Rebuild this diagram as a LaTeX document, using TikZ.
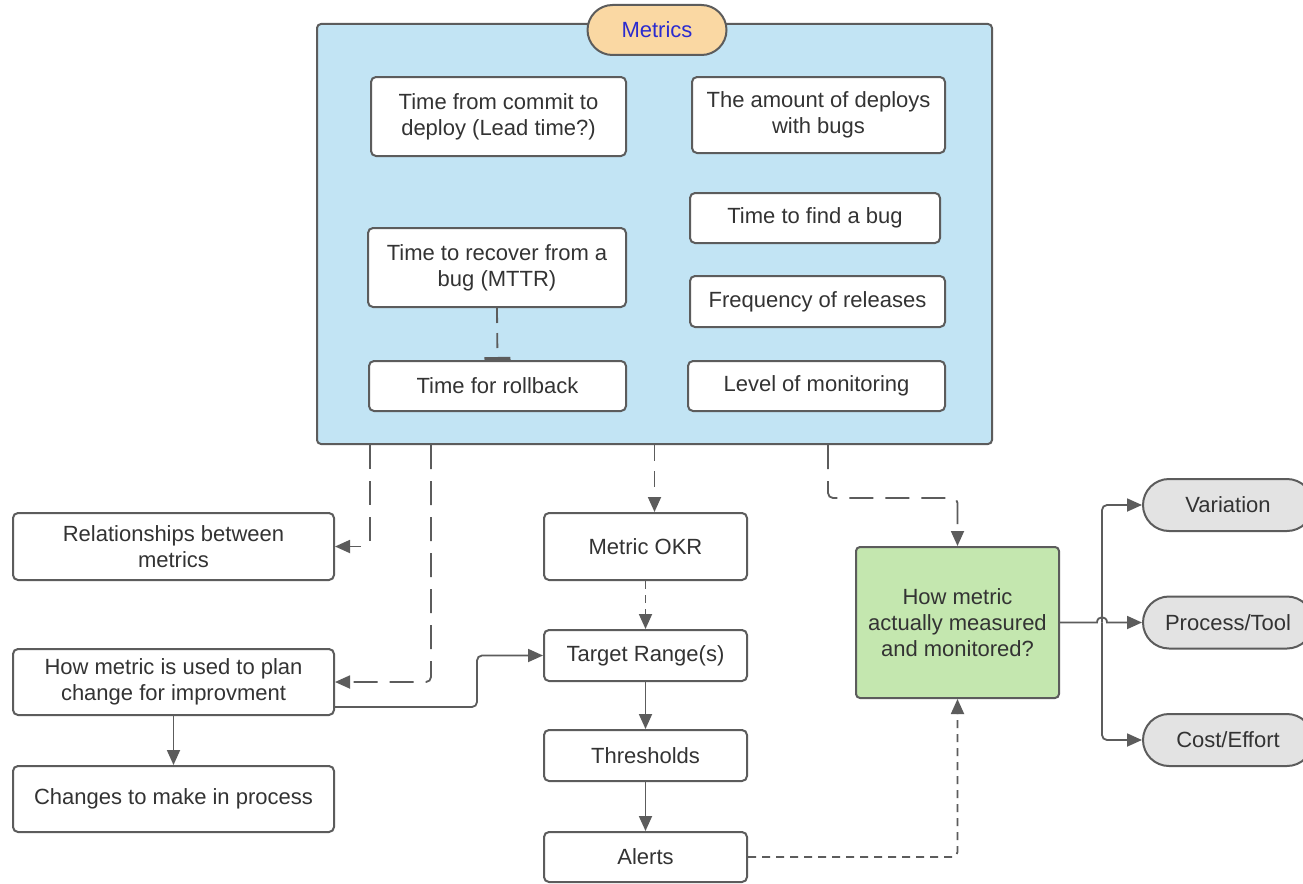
\documentclass[tikz,border=0pt]{standalone}
\usepackage{fontspec}
\setmainfont{Liberation Sans}
\usetikzlibrary{arrows.meta}
\definecolor{edge}{HTML}{5C5C5C}
\definecolor{ink}{HTML}{333333}
\definecolor{panel}{HTML}{C2E4F4}
\definecolor{tabfill}{HTML}{FAD8A3}
\definecolor{tabink}{HTML}{2B2BCF}
\definecolor{okfill}{HTML}{C4E7AF}
\definecolor{pill}{HTML}{E3E3E3}
\begin{document}
\begin{tikzpicture}[x=1pt,y=-1pt,
  box/.style={draw=edge, line width=2pt, rounded corners=5pt, fill=white,
    text=ink, font=\fontsize{22}{26}\selectfont, align=center, inner sep=0pt},
  stadium/.style={box, rounded corners=26pt, fill=pill},
  wire/.style={draw=edge, line width=1.8pt, rounded corners=5pt,
    -{Triangle[length=15pt,width=13pt]}},
  longdash/.style={dash pattern=on 24pt off 12pt},
  middash/.style={dash pattern=on 16pt off 10pt},
  shortdash/.style={dash pattern=on 8pt off 6pt}]
\useasboundingbox (0,0) rectangle (1303,883);
\fill[white] (0,0) rectangle (1303,883);

% metrics panel and its tab
\node[box, fill=panel, rounded corners=4pt, minimum width=675pt, minimum height=420pt] (metrics) at (654.5,234) {};
\node[box, fill=tabfill, rounded corners=25pt, minimum width=139pt, minimum height=50pt, text=tabink] (tab) at (657,30) {Metrics};

% metric boxes inside the panel
\node[box, minimum width=255pt, minimum height=79pt] (lead) at (498.5,116.5) {Time from commit to\\deploy (Lead time?)};
\node[box, minimum width=253pt, minimum height=76pt] (deploys) at (818.5,115) {The amount of deploys\\with bugs};
\node[box, minimum width=250pt, minimum height=50pt] (findbug) at (815,218) {Time to find a bug};
\node[box, minimum width=258pt, minimum height=79pt] (mttr) at (497,267.5) {Time to recover from a\\bug (MTTR)};
\node[box, minimum width=255pt, minimum height=51pt] (freq) at (817.5,301.5) {Frequency of releases};
\node[box, minimum width=257pt, minimum height=50pt] (rollback) at (497.5,386) {Time for rollback};
\node[box, minimum width=257pt, minimum height=50pt] (monitor) at (816.5,386) {Level of monitoring};

\draw[draw=edge, line width=1.8pt, dash pattern=on 15pt off 10pt,
  -{Bar[width=26pt,line width=3pt]}] (mttr.south) -- (rollback.north);

% left column
\node[box, minimum width=321pt, minimum height=67pt] (rel) at (173.5,546.5) {Relationships between\\metrics};
\node[box, minimum width=321pt, minimum height=66pt] (plan) at (173.5,682) {How metric is used to plan\\change for improvment};
\node[box, minimum width=321pt, minimum height=66pt] (changes) at (173.5,799) {Changes to make in process};

% middle column
\node[box, minimum width=203pt, minimum height=67pt] (okr) at (645.5,546.5) {Metric OKR};
\node[box, minimum width=203pt, minimum height=51pt] (target) at (645.5,655.5) {Target Range(s)};
\node[box, minimum width=203pt, minimum height=51pt] (thresh) at (645.5,755.5) {Thresholds};
\node[box, minimum width=203pt, minimum height=50pt] (alerts) at (645.5,857) {Alerts};

% measurement box and its aspects
\node[box, fill=okfill, rounded corners=4pt, minimum width=203pt, minimum height=151pt] (measure) at (957.5,622.5) {How metric\\actually measured\\and monitored?};
\node[stadium, minimum width=170pt, minimum height=52pt] (var) at (1228,505) {Variation};
\node[stadium, minimum width=170pt, minimum height=52pt] (proc) at (1228,622.5) {Process/Tool};
\node[stadium, minimum width=170pt, minimum height=52pt] (cost) at (1228,740) {Cost/Effort};

% taps on the panel's lower edge and bend points
\coordinate (tapRel) at ([xshift=54pt]metrics.south west);
\coordinate (tapPlan) at ([xshift=115pt]metrics.south west);
\coordinate (tapMeas) at ([xshift=512pt]metrics.south west);
\coordinate (bendMeas) at ([yshift=-53pt]tapMeas);
\coordinate (planOut) at ([yshift=-25pt]plan.east);
\coordinate (jogPlan) at ([xshift=142pt]planOut);
\coordinate (split) at ([xshift=42pt]measure.east);

% connectors
\draw[wire, longdash] (tapRel) |- (rel.east);
\draw[wire, longdash] (tapPlan) |- (plan.east);
\draw[wire, middash] (metrics.south) -- (metrics.south |- okr.north);
\draw[wire, shortdash] (okr.south) -- (target.north);
\draw[wire] (planOut) -- (jogPlan) |- (target.west);
\draw[wire] (target.south) -- (thresh.north);
\draw[wire] (thresh.south) -- (alerts.north);
\draw[wire] (plan.south) -- (changes.north);
\draw[wire, longdash] (tapMeas) -- (bendMeas) -| (measure.north);
\draw[wire, shortdash] (alerts.east) -| (measure.south);

\draw[wire] (split) |- (var.west);
\draw[wire] (split) |- (cost.west);
\draw[wire, rounded corners=0pt] (measure.east) -- ([xshift=-5pt]split)
  .. controls +(0,-7) and +(0,-7) .. ([xshift=5pt]split) -- (proc.west);
\end{tikzpicture}
\end{document}
